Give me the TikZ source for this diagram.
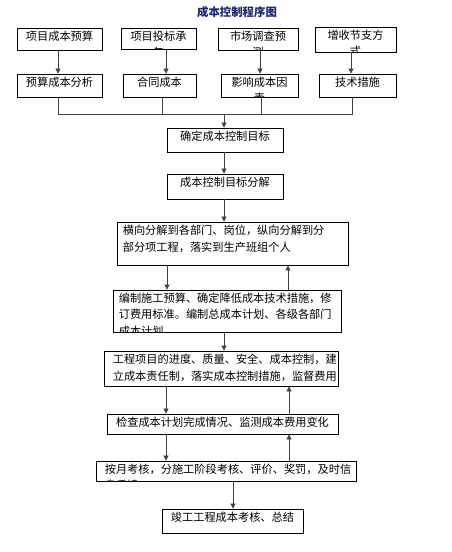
\documentclass[tikz,border=0pt]{standalone}
\usepackage{fontspec}
\newfontfamily\cjk{Noto Sans CJK SC}
\usetikzlibrary{arrows.meta}
\definecolor{titleblue}{RGB}{28,38,120}
\tikzset{
  boxst/.style={draw=black, line width=0.8pt, inner sep=0pt, fill=white},
  txt/.style={inner sep=0pt, font=\fontsize{11.2pt}{16.5pt}\selectfont\cjk},
  conn/.style={draw=black!75, line width=0.7pt},
  arr/.style={conn, -{Triangle[length=5pt,width=5pt]}}
}
% centred text box: name, x1, y1, x2, y2, text
\newcommand\myboxc[6]{%
  \node[boxst, minimum width={#4pt-#2pt}, minimum height={#5pt-#3pt}] (#1) at ({(#2+#4)/2},{(#3+#5)/2}) {};
  \begin{scope}
    \clip (#1.south west) rectangle (#1.north east);
    \node[txt, align=center, anchor=north] (#1t) at ([yshift=-3.2pt]#1.north) {#6};
  \end{scope}}
% left-aligned text box: name, x1, y1, x2, y2, left padding, text
\newcommand\myboxl[7]{%
  \node[boxst, minimum width={#4pt-#2pt}, minimum height={#5pt-#3pt}] (#1) at ({(#2+#4)/2},{(#3+#5)/2}) {};
  \begin{scope}
    \clip (#1.south west) rectangle (#1.north east);
    \node[txt, align=left, anchor=north west] (#1t) at ([xshift=#6pt,yshift=-3.2pt]#1.north west) {#7};
  \end{scope}}
\begin{document}
\begin{tikzpicture}[x=1pt,y=-1pt]
\useasboundingbox[fill=white] (0,0) rectangle (452,552);
\node[inner sep=0pt, font=\fontsize{11.4pt}{13pt}\selectfont\cjk\bfseries, text=titleblue] (title) at (237,12) {成本控制程序图};

% top row
\myboxc{b1}{17}{28}{102}{50}{项目成本预算}
\myboxc{b2}{121}{28}{196}{49}{项目投标承\\包}
\myboxc{b3}{218}{28}{298}{50}{市场调查预\\测}
\myboxc{b4}{315}{27}{396}{52}{增收节支方\\式}
% second row
\myboxc{b5}{17}{74}{102}{97}{预算成本分析}
\myboxc{b6}{123}{74}{196}{97}{合同成本}
\myboxc{b7}{221}{74}{298}{97}{影响成本因\\素}
\myboxc{b8}{319}{74}{396}{97}{技术措施}

\draw[arr] (b1.south -| 58,0) -- (b5.north -| 58,0);
\draw[arr] (b2.south -| 166,0) -- (b6.north -| 166,0);
\draw[arr] (b3.south -| 260,0) -- (b7.north -| 260,0);
\draw[arr] (b4.south -| 351,0) -- (b8.north -| 351,0);

\coordinate (jl) at (58,114);
\coordinate (jr) at (352,114);
\coordinate (jm) at (224,114);
\draw[conn] (b5.south -| jl) -- (jl) -- (jr) -- (b8.south -| jr);
\draw[conn] (b6.south -| 162,0) -- (162,114);
\draw[conn] (b7.south -| 261,0) -- (261,114);

% main chain
\myboxc{c1}{167}{128}{283}{152}{确定成本控制目标}
\myboxc{c2}{167}{174}{283}{199}{成本控制目标分解}
\myboxl{c3}{117}{222}{348}{265}{6}{横向分解到各部门、岗位，纵向分解到分\\部分项工程，落实到生产班组个人}
\myboxl{c4}{113}{290}{341}{332}{6}{编制施工预算、确定降低成本技术措施，修\\订费用标准。编制总成本计划、各级各部门\\成本计划}
\myboxl{c5}{104}{351}{338}{386}{9}{工程项目的进度、质量、安全、成本控制，建\\立成本责任制，落实成本控制措施，监督费用\\支出}
\myboxc{c6}{107}{414}{338}{434}{检查成本计划完成情况、监测成本费用变化}
\myboxl{c7}{96}{461}{356}{481}{9}{按月考核，分施工阶段考核、评价、奖罚，及时信\\息反馈}
\myboxc{c8}{162}{509}{303}{533}{竣工工程成本考核、总结}

\draw[arr] (jm) -- (c1.north -| jm);
\draw[arr] (c1.south -| 224,0) -- (c2.north -| 224,0);
\draw[arr] (c2.south -| 224,0) -- (c3.north -| 224,0);
\draw[arr] (c3.south -| 167,0) -- (c4.north -| 167,0);
\draw[arr] (c4.north -| 288,0) -- (c3.south -| 288,0);
\draw[arr] (c4.south -| 224,0) -- (c5.north -| 224,0);
\draw[arr] (c5.south -| 166,0) -- (c6.north -| 166,0);
\draw[arr] (c6.north -| 289,0) -- (c5.south -| 289,0);
\draw[arr] (c6.south -| 166,0) -- (c7.north -| 166,0);
\draw[arr] (c7.north -| 289,0) -- (c6.south -| 289,0);
\draw[arr] (c7.south -| 233,0) -- (c8.north -| 233,0);
\end{tikzpicture}
\end{document}
